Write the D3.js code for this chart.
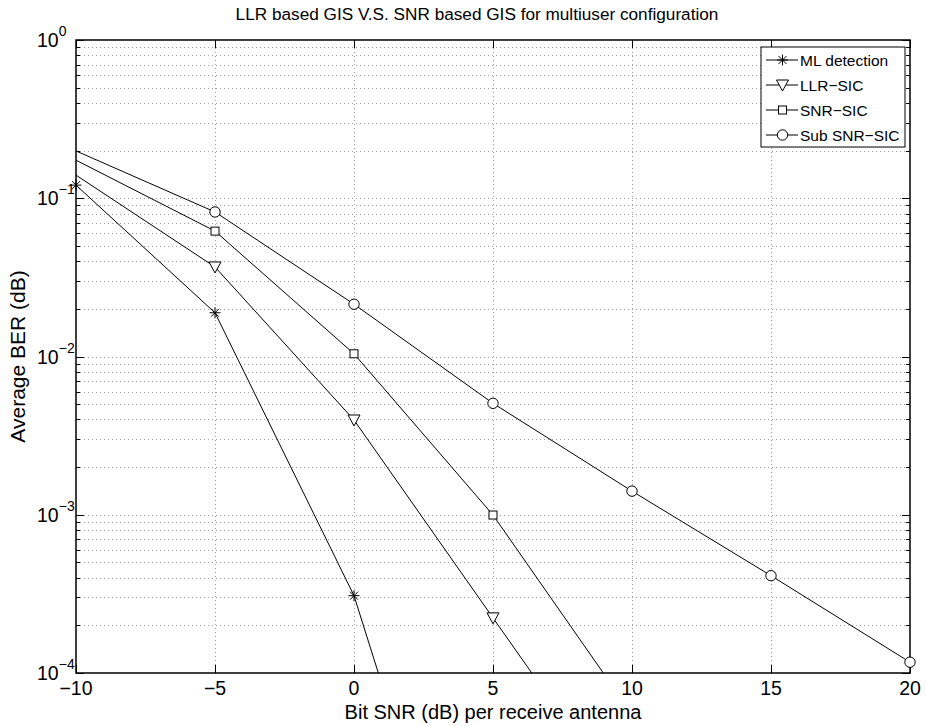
<!DOCTYPE html>
<html>
<head>
<meta charset="utf-8">
<script src="https://cdn.jsdelivr.net/npm/d3@7/dist/d3.min.js"></script>
<style>
  html, body { margin: 0; padding: 0; background: #fff; }
  svg { display: block; font-family: "Liberation Sans", Arial, Helvetica, sans-serif; }
</style>
</head>
<body>
<svg id="chart" width="926" height="726"></svg>
<script>
// Bit SNR (dB) sample points
const snrML  = [-10, -5, 0, 5];
const berML  = [0.121, 0.0189, 3.08e-4, 5e-7];

const snrLLR = [-10, -5, 0, 5, 10];
const berLLR = [0.140, 0.0368, 0.00397, 2.23e-4, 1.26e-5];

const snrSNR = [-10, -5, 0, 5, 10];
const berSNR = [0.174, 0.062, 0.0104, 9.96e-4, 5.5e-5];

const snrSub = [-10, -5, 0, 5, 10, 15, 20];
const berSub = [0.199, 0.0819, 0.0214, 0.00506, 0.00141, 4.12e-4, 1.17e-4];

const seriesNames = ["ML detection", "LLR\u2212SIC", "SNR\u2212SIC", "Sub SNR\u2212SIC"];
const markerTypes = ["star", "tri", "square", "circle"];

const xTicks = [-10, -5, 0, 5, 10, 15, 20];
const yMajorExp = [0, -1, -2, -3, -4];

const titleText = "LLR based GIS V.S. SNR based GIS for multiuser configuration";
const xLabelText = "Bit SNR (dB) per receive antenna";
const yLabelText = "Average BER (dB)";

const series = [
  { name: seriesNames[0], x: snrML,  y: berML,  marker: markerTypes[0], markFirst: true },
  { name: seriesNames[1], x: snrLLR, y: berLLR, marker: markerTypes[1], markFirst: false },
  { name: seriesNames[2], x: snrSNR, y: berSNR, marker: markerTypes[2], markFirst: false },
  { name: seriesNames[3], x: snrSub, y: berSub, marker: markerTypes[3], markFirst: false }
];

const svg = d3.select("#chart");
const L = 76, R = 910, T = 40, B = 673;

const x = d3.scaleLinear().domain([-10, 20]).range([L, R]);
const y = d3.scaleLog().domain([1e-4, 1]).range([B, T]);

// clip region for data lines
svg.append("defs").append("clipPath").attr("id", "plotClip")
  .append("rect").attr("x", L).attr("y", T).attr("width", R - L).attr("height", B - T);

// minor + major y values (1..9 per decade)
const yGridVals = [];
for (let e = -4; e < 0; e++) {
  for (let m = 1; m <= 9; m++) yGridVals.push(m * Math.pow(10, e));
}
yGridVals.push(1);

const grid = svg.append("g").attr("stroke", "#a0a0a0").attr("stroke-width", 1)
  .attr("stroke-dasharray", "1,3").attr("shape-rendering", "crispEdges");
yGridVals.filter(v => v > 1e-4 && v < 1).forEach(v => {
  grid.append("line").attr("x1", L).attr("x2", R)
    .attr("y1", Math.round(y(v)) + 0.5).attr("y2", Math.round(y(v)) + 0.5);
});
xTicks.filter(v => v > -10 && v < 20).forEach(v => {
  grid.append("line").attr("y1", T).attr("y2", B)
    .attr("x1", Math.round(x(v)) + 0.5).attr("x2", Math.round(x(v)) + 0.5);
});

// ticks on all four sides, pointing inward
const ticks = svg.append("g").attr("stroke", "#000").attr("stroke-width", 1).attr("shape-rendering", "crispEdges");
xTicks.forEach(v => {
  const px = Math.round(x(v)) + 0.5;
  ticks.append("line").attr("x1", px).attr("x2", px).attr("y1", B).attr("y2", B - 8);
  ticks.append("line").attr("x1", px).attr("x2", px).attr("y1", T).attr("y2", T + 8);
});
yGridVals.forEach(v => {
  const py = Math.round(y(v)) + 0.5;
  const major = Math.abs(Math.log10(v) - Math.round(Math.log10(v))) < 1e-9;
  const len = major ? 8 : 4;
  ticks.append("line").attr("x1", L).attr("x2", L + len).attr("y1", py).attr("y2", py);
  ticks.append("line").attr("x1", R).attr("x2", R - len).attr("y1", py).attr("y2", py);
});

// axes box
svg.append("rect").attr("x", L).attr("y", T).attr("width", R - L).attr("height", B - T)
  .attr("fill", "none").attr("stroke", "#000").attr("stroke-width", 1.5);

// x tick labels
svg.append("g").selectAll("text").data(xTicks).join("text")
  .attr("x", d => x(d)).attr("y", 695)
  .attr("text-anchor", "middle").attr("font-size", 19.5).attr("fill", "#000")
  .text(d => d < 0 ? "\u2212" + Math.abs(d) : String(d));

// y tick labels as 10^e
const yl = svg.append("g");
yMajorExp.forEach(e => {
  const py = y(Math.pow(10, e));
  const t = yl.append("text").attr("x", 37).attr("y", py + 7)
    .attr("font-size", 19.5).attr("fill", "#000");
  t.append("tspan").text("10");
  t.append("tspan").attr("dy", -11).attr("font-size", 14)
    .text(e < 0 ? "\u2212" + Math.abs(e) : String(e));
});

// title and axis labels
svg.append("text").attr("x", 477).attr("y", 20).attr("text-anchor", "middle")
  .attr("font-size", 17.2).text(titleText);
svg.append("text").attr("x", (L + R) / 2).attr("y", 719).attr("text-anchor", "middle")
  .attr("font-size", 20).text(xLabelText);
svg.append("text").attr("transform", `translate(25,${(T + B) / 2}) rotate(-90)`)
  .attr("text-anchor", "middle").attr("font-size", 21).text(yLabelText);

// marker glyphs
function drawMarker(g, type, cx, cy) {
  const s = g.append("g").attr("transform", `translate(${cx},${cy})`)
    .attr("fill", "none").attr("stroke", "#000").attr("stroke-width", 1);
  if (type === "star") {
    const r = 5.5;
    s.append("line").attr("x1", -r).attr("x2", r).attr("y1", 0).attr("y2", 0);
    s.append("line").attr("x1", 0).attr("x2", 0).attr("y1", -r).attr("y2", r);
    const d = r * 0.72;
    s.append("line").attr("x1", -d).attr("x2", d).attr("y1", -d).attr("y2", d);
    s.append("line").attr("x1", -d).attr("x2", d).attr("y1", d).attr("y2", -d);
  } else if (type === "tri") {
    s.append("path").attr("d", "M-6,-5L6,-5L0,6Z").attr("fill", "#fff");
  } else if (type === "square") {
    s.append("rect").attr("x", -4).attr("y", -4).attr("width", 8).attr("height", 8).attr("fill", "#fff");
  } else if (type === "circle") {
    s.append("circle").attr("r", 5.2).attr("fill", "#fff");
  }
}

const line = d3.line().x(d => x(d[0])).y(d => y(d[1]));
const plot = svg.append("g").attr("clip-path", "url(#plotClip)");
series.forEach(s => {
  const pts = s.x.map((v, i) => [v, s.y[i]]);
  plot.append("path").attr("d", line(pts)).attr("fill", "none")
    .attr("stroke", "#000").attr("stroke-width", 1);
});
const markLayer = svg.append("g");
series.forEach(s => {
  s.x.forEach((v, i) => {
    const val = s.y[i];
    if (val < 1e-4 || v > 20) return;
    if (i === 0 && !s.markFirst) return;
    drawMarker(markLayer, s.marker, x(v), y(val));
  });
});

// legend
const lgX = 761, lgY = 47, lgW = 144, lgH = 100;
const lg = svg.append("g");
lg.append("rect").attr("x", lgX).attr("y", lgY).attr("width", lgW).attr("height", lgH)
  .attr("fill", "#fff").attr("stroke", "#000").attr("stroke-width", 1);
series.forEach((s, i) => {
  const cy = 60 + i * 25;
  lg.append("line").attr("x1", 766).attr("x2", 798).attr("y1", cy).attr("y2", cy)
    .attr("stroke", "#000").attr("stroke-width", 1);
  drawMarker(lg, s.marker, 782.5, cy);
  lg.append("text").attr("x", 800).attr("y", cy + 5.5).attr("font-size", 15.5).text(s.name);
});
</script>
</body>
</html>
